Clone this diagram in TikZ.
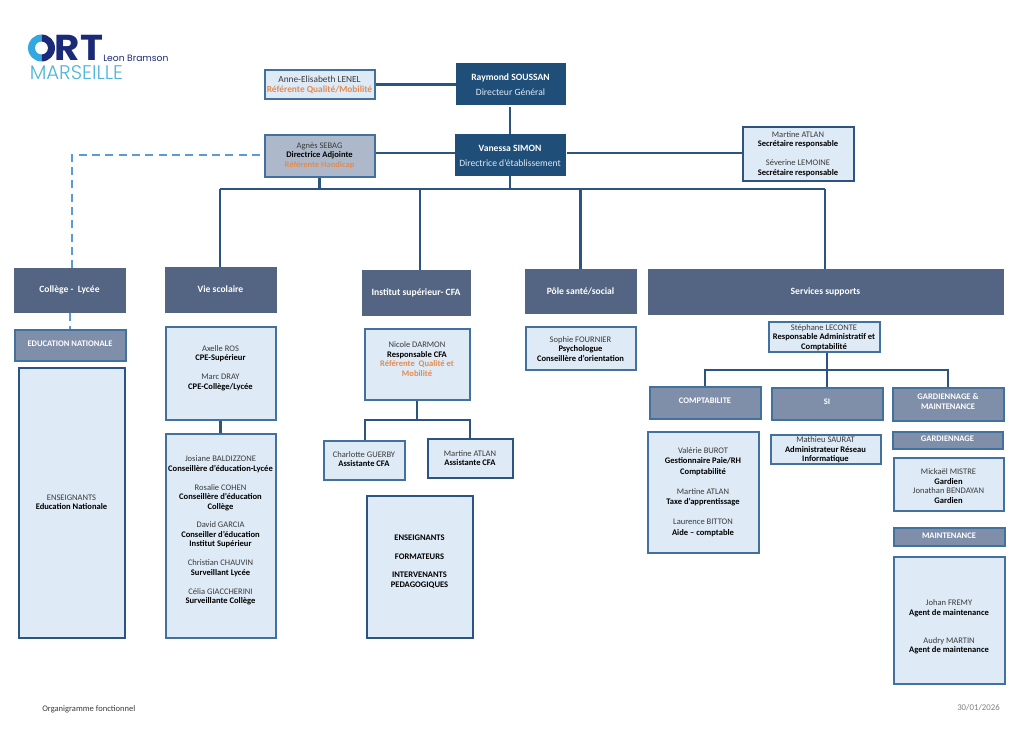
\documentclass[tikz,border=0pt]{standalone}
\usepackage{fontspec}
\setmainfont{Carlito}
\newfontfamily\logofont{Poppins}
\newfontfamily\logolight{Poppins Light}
\definecolor{cdark}{HTML}{1F4E79}
\definecolor{chead}{HTML}{536582}
\definecolor{csub}{HTML}{7F8FAA}
\definecolor{clight}{HTML}{DEEAF6}
\definecolor{cedge}{HTML}{41719C}
\definecolor{cline}{HTML}{2B5580}
\definecolor{cgrey}{HTML}{ADB9CA}
\definecolor{cdash}{HTML}{5B9BD5}
\definecolor{corange}{HTML}{E38B50}
\definecolor{cnavy}{HTML}{1B2A78}
\definecolor{csky}{HTML}{35A7E0}
\definecolor{cteal}{HTML}{4DB4DC}
\definecolor{ctext}{HTML}{3A3A3A}
\newcommand{\nm}[1]{{\color{ctext}#1}}
\newcommand{\rl}[1]{{\bfseries\color{black}#1}}
\newcommand{\rf}[1]{{\bfseries\color{corange}#1}}
\newcommand{\wb}[1]{{\bfseries\color{white}#1}}
\newcommand{\bl}{\\[7.1pt]}
\tikzset{
  lbl/.style={align=center,inner sep=0pt,font=\fontsize{6.4}{7.1}\selectfont},
  lblanne/.style={lbl,font=\fontsize{7}{7.4}\selectfont},
  lblbig/.style={lbl,font=\fontsize{7.2}{7.4}\selectfont},
  lblwide/.style={lbl,font=\fontsize{6.4}{7.9}\selectfont},
  topbox/.style={rectangle,draw=cdark,fill=cdark,line width=1.5pt},
  headbox/.style={rectangle,draw=chead,fill=chead,line width=1.5pt},
  subbox/.style={rectangle,draw=cedge,fill=csub,line width=1.5pt},
  personbox/.style={rectangle,draw=cedge,fill=clight,line width=1.5pt},
  strongbox/.style={rectangle,draw=cline,fill=clight,line width=1.5pt},
  greybox/.style={rectangle,draw=cedge,fill=cgrey,line width=1.5pt},
  link/.style={draw=cline,line width=1.9pt},
  dashlink/.style={draw=cdash,line width=1.9pt,dash pattern=on 6pt off 4pt},
}
% style, name, x1, y1, x2, y2, text shift (px, downward), text, label style
\newcommand{\bx}[9][lbl]{%
  \pgfmathsetlengthmacro\bxw{(#6-#4)*0.75pt-0.75pt}%
  \pgfmathsetlengthmacro\bxh{(#7-#5)*0.75pt-0.75pt}%
  \pgfmathsetlengthmacro\bxs{-(#8)*0.75pt}%
  \node[#2,inner sep=0pt,minimum width=\bxw,minimum height=\bxh,
        label={[#1,yshift=\bxs]center:{#9}}] (#3) at ({(#4+#6)/2},{(#5+#7)/2}) {};}
\begin{document}
\begin{tikzpicture}[x=0.75pt,y=-0.75pt]
\useasboundingbox (0,0) rectangle (1024,742);
% logo
\fill[csky] (41.5,34.5) arc (-90:-270:13.5) -- (41.5,54.5) arc (90:270:6.5) -- cycle;
\fill[cnavy] (41.5,34.5) arc (-90:90:13.5) -- (41.5,54.5) arc (90:-90:6.5) -- cycle;
\node[anchor=base west,inner sep=0pt,text=cnavy,font=\logofont\bfseries\fontsize{27}{27}\selectfont] (logort) at (54.5,60.5) {\scalebox{1.08}[1]{RT}};
\node[anchor=base west,inner sep=0pt,text=cnavy,font=\logofont\fontsize{6.9}{7}\selectfont] (logoleon) at (103,61.5) {Leon Bramson};
\node[anchor=base west,inner sep=0pt,text=cteal,font=\logolight\fontsize{14.8}{14.8}\selectfont] (logomrs) at (29.5,79.5) {MARSEILLE};
% top
\bx[lblanne]{personbox}{anne}{264}{70}{375}{99}{0}{\nm{Anne-Elisabeth LENEL}\\\rf{Référente Qualité/Mobilité}}
\bx[lblbig]{topbox}{raymond}{456}{64}{565}{104}{1}{\wb{Raymond SOUSSAN}\\[4pt]{\color{clight}Directeur Général}}
\bx[lblbig]{topbox}{vanessa}{455}{134}{565}{175}{1}{\wb{Vanessa SIMON}\\[4pt]{\color{clight}Directrice d’établissement}}
\bx{greybox}{agnes}{264}{134}{375}{177}{0}{\nm{Agnès SEBAG}\\\rl{Directrice Adjointe}\\\rf{Référente Handicap}}
\bx{strongbox}{secr}{742}{126}{854}{181}{0.5}{\nm{Martine ATLAN}\\\rl{Secrétaire responsable}\bl\nm{Séverine LEMOINE}\\\rl{Secrétaire responsable}}
% heads
\bx[lblbig]{headbox}{college}{14}{268}{125}{312}{0}{\wb{Collège -~~Lycée}}
\bx[lblbig]{headbox}{vie}{165}{267}{276}{312}{0}{\wb{Vie scolaire}}
\bx[lblbig]{headbox}{institut}{362}{270}{470}{315}{0}{\wb{Institut supérieur- CFA}}
\bx[lblbig]{headbox}{pole}{525}{269}{636}{313}{0}{\wb{Pôle santé/social}}
\bx[lblbig]{headbox}{services}{648}{269}{1003}{314}{0}{\wb{Services supports}}
% college
\bx{subbox}{edunat}{14}{329}{126}{361}{-1}{\wb{EDUCATION NATIONALE}}
\bx{strongbox}{enseign}{18}{367}{125}{638}{0}{\nm{ENSEIGNANTS}\\\rl{Education Nationale}}
% vie scolaire
\bx{personbox}{axelle}{165}{326}{276}{420}{-5}{\nm{Axelle ROS}\\\rl{CPE-Supérieur}\bl\nm{Marc DRAY}\\\rl{CPE-Collège/Lycée}}
\bx{personbox}{josiane}{165}{433}{276}{638}{-5}{\nm{Josiane BALDIZZONE}\\\rl{Conseillère d’éducation-Lycée}\bl\nm{Rosalie COHEN}\\\rl{Conseillère d’éducation}\\\rl{Collège}\bl\nm{David GARCIA}\\\rl{Conseiller d’éducation}\\\rl{Institut Supérieur}\bl\nm{Christian CHAUVIN}\\\rl{Surveillant Lycée}\bl\nm{Célia GIACCHERINI}\\\rl{Surveillante Collège}}
% institut
\bx{personbox}{nicole}{364}{328}{470}{400}{-5}{\nm{Nicole DARMON}\\\rl{Responsable CFA}\\\rf{Référente~~Qualité et}\\\rf{Mobilité}}
\bx{personbox}{charlotte}{323}{440}{405}{480}{-1}{\nm{Charlotte GUERBY}\\\rl{Assistante CFA}}
\bx{strongbox}{martineb}{427}{438}{513}{478}{0}{\nm{Martine ATLAN}\\\rl{Assistante CFA}}
\bx{strongbox}{formateurs}{366}{495}{473}{638}{-5}{\rl{ENSEIGNANTS}\bl\rl{FORMATEURS}\bl\rl{INTERVENANTS}\\\rl{PEDAGOGIQUES}}
% pole
\bx{personbox}{sophie}{525}{326}{636}{370}{1}{\nm{Sophie FOURNIER}\\\rl{Psychologue}\\\rl{Conseillère d’orientation}}
% services
\bx{personbox}{stephane}{768}{321}{880}{352}{1}{\nm{Stéphane LECONTE}\\\rl{Responsable Administratif et}\\\rl{Comptabilité}}
\bx{subbox}{compta}{649}{386}{761}{419}{-1.5}{\wb{COMPTABILITE}}
\bx{subbox}{si}{771}{387}{883}{420}{-2}{\wb{SI}}
\bx{subbox}{gardmaint}{892}{387}{1004}{421}{-2.5}{\wb{GARDIENNAGE \&}\\\wb{MAINTENANCE}}
\bx[lblwide]{personbox}{valerie}{647}{431}{759}{553}{0}{\nm{Valérie BUROT}\\\rl{Gestionnaire Paie/RH}\\\rl{Comptabilité}\bl\nm{Martine ATLAN}\\\rl{Taxe d’apprentissage}\bl\nm{Laurence BITTON}\\\rl{Aide – comptable}}
\bx{personbox}{mathieu}{770}{434}{881}{464}{1}{\nm{Mathieu SAURAT}\\\rl{Administrateur Réseau}\\\rl{Informatique}}
\bx{subbox}{gardien}{892}{431}{1003}{449}{-1.5}{\wb{GARDIENNAGE}}
\bx{personbox}{mickael}{893}{457}{1004}{511}{2}{\nm{Mickaël MISTRE}\\\rl{Gardien}\\\nm{Jonathan BENDAYAN}\\\rl{Gardien}}
\bx{subbox}{maint}{893}{527}{1005}{546}{-0.5}{\wb{MAINTENANCE}}
\bx{personbox}{johan}{893}{556}{1005}{684}{7}{\nm{Johan FREMY}\\\rl{Agent de maintenance}\\[14pt]\nm{Audry MARTIN}\\\rl{Agent de maintenance}}
% footer
\node[anchor=base west,inner sep=0pt,font=\fontsize{6.4}{7.1}\selectfont,text=ctext] (footl) at (42,711) {Organigramme fonctionnel};
\node[anchor=base east,inner sep=0pt,font=\fontsize{6.6}{7.1}\selectfont,text=gray] (footr) at (1000,710) {30/01/2026};
% connectors
\coordinate (busleft) at (220,189);
\coordinate (busright) at (825,189);
\coordinate (vline) at (0,153);
\draw[link] (anne.east) -- (raymond.west |- anne.east);
\draw[link] (vanessa.north) -- (vanessa.north |- 0,107);
\draw[link] (agnes.east |- vline) -- (vanessa.west |- vline);
\draw[link] (567,153) -- (secr.west |- vline);
\draw[link] (busleft) -- (busright);
\draw[link] (vanessa.south) -- (vanessa.south |- busleft);
\draw[link] (agnes.south) -- (agnes.south |- busleft);
\draw[link] (vie.north -| busleft) -- (busleft);
\draw[link] (institut.north -| 420,0) -- (420,189);
\draw[link] (pole.north) -- (pole.north |- busleft);
\draw[link] (services.north -| busright) -- (busright);
\draw[dashlink] (260,155) -- (72,155) -- (72,268);
\draw[dashlink] (college.south -| 70,0) -- (edunat.north -| 70,0);
\draw[link] (axelle.south) -- (josiane.north);
% CFA branch
\coordinate (cfabus) at (417,420);
\draw[link] (nicole.south -| cfabus) -- (cfabus);
\draw[link] (charlotte.north -| 365,0) -- (365,420) -- (470,420) -- (martineb.north -| 470,0);
% services branch
\coordinate (supbus) at (827,370);
\draw[link] (stephane.south -| supbus) -- (supbus);
\draw[link] (compta.north -| 705,0) -- (705,370) -- (948,370) -- (gardmaint.north -| 948,0);
\draw[link] (supbus) -- (si.north -| supbus);
\end{tikzpicture}
\end{document}
